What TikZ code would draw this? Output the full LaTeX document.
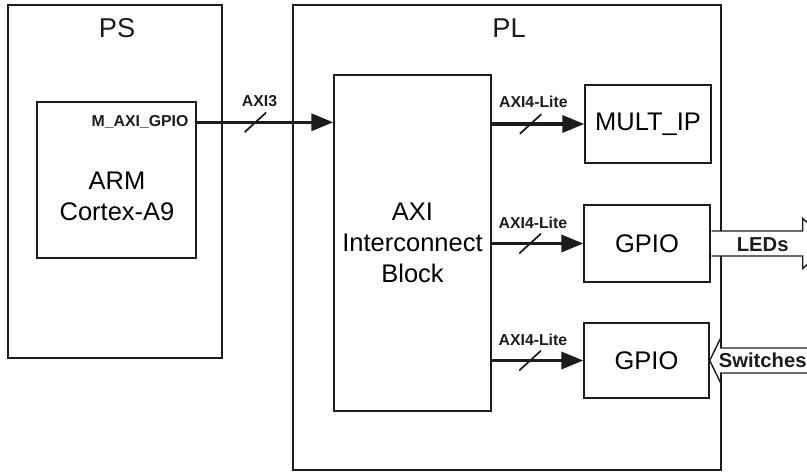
\documentclass[tikz,border=0pt]{standalone}
\usepackage{fontspec}
\setmainfont{Liberation Sans}
\usetikzlibrary{arrows.meta,positioning,calc}
\definecolor{zyInk}{HTML}{1C1C1C}
\tikzset{
  zy/base/.style={draw=zyInk, line width=0.8pt, inner sep=0pt},
  zy/region/.style={zy/base},
  zy/block/.style={zy/base, align=center, font=\fontsize{14.5}{17.5}\selectfont},
  zy/title/.style={font=\fontsize{15.5}{18}\selectfont, text=zyInk},
  zy/bus/.style={-{Triangle[length=4.4mm,width=3.4mm]}, draw=zyInk,
    line width=2pt},
  zy/buslabel/.style={font=\bfseries\fontsize{9}{10}\selectfont, text=zyInk,
    inner sep=0pt},
  zy/slash/.style={minimum width=4.4mm, minimum height=4mm, inner sep=0pt,
    path picture={\draw[-, zyInk, line width=1pt]
      (path picture bounding box.south west) -- (path picture bounding box.north east);}},
  zy/port/.style={draw=zyInk, line width=0.8pt, fill=white},
  zy/portlabel/.style={font=\bfseries\fontsize{11.5}{13}\selectfont, text=zyInk,
    inner sep=0pt},
}

\begin{document}
\begin{tikzpicture}[
    block/.style={zy/block, minimum width=2.52cm, minimum height=1.54cm},
]
\useasboundingbox (0,0) rectangle (16.14,-9.50);

% processing system side
\node[zy/region, minimum width=4.28cm, minimum height=7.06cm] (ps) at (2.30,-3.63) {};
\node[zy/title] (pstitle) at ($(ps.north)+(0.04,-0.47)$) {PS};
\node[zy/region, minimum width=3.18cm, minimum height=3.12cm] (arm) at (2.33,-3.60) {};
\node[zy/block, draw=none] (armtext) at (2.34,-3.92) {ARM\\Cortex-A9};
\node[zy/buslabel, anchor=east] (mgpio) at ($(arm.north east)+(-0.16,-0.42)$) {M\_AXI\_GPIO};

% programmable logic side
\node[zy/region, minimum width=8.56cm, minimum height=9.30cm] (pl) at (10.14,-4.75) {};
\node[zy/title] (pltitle) at ($(pl.north)+(0.04,-0.47)$) {PL};
\node[zy/block, minimum width=3.14cm, minimum height=6.72cm] (axi) at (8.25,-4.86)
  {AXI\\Interconnect\\Block};
\node[block, minimum height=1.56cm] (mult) at (12.96,-2.48) {MULT\_IP};
\node[block] (gpioled) at (12.94,-4.87) {GPIO};
\node[block, minimum width=2.50cm, minimum height=1.50cm] (gpiosw) at (12.93,-7.21) {GPIO};

% buses
\draw[zy/bus] (mgpio.east -| arm.east)
  -- node[pos=0.43, zy/slash] (s0) {} node[pos=0.46, zy/buslabel, yshift=0.42cm] (l0) {AXI3}
  (mgpio.east -| axi.west);
\draw[zy/bus] (mult.west -| axi.east)
  -- node[pos=0.42, zy/slash] (s1) {} node[pos=0.45, zy/buslabel, yshift=0.44cm] (l1) {AXI4-Lite}
  (mult.west);
\draw[zy/bus] (gpioled.west -| axi.east)
  -- node[pos=0.42, zy/slash] (s2) {} node[pos=0.45, zy/buslabel, yshift=0.42cm] (l2) {AXI4-Lite}
  (gpioled.west);
\draw[zy/bus] (gpiosw.west -| axi.east)
  -- node[pos=0.42, zy/slash] (s3) {} node[pos=0.45, zy/buslabel, yshift=0.42cm] (l3) {AXI4-Lite}
  (gpiosw.west);

% board I/O
\begin{scope}[shift={(gpioled.east)}]
  \draw[zy/port] (0.02,0.25) -- (1.84,0.25) -- (1.84,0.50) -- (2.40,0)
    -- (1.84,-0.50) -- (1.84,-0.25) -- (0.02,-0.25);
\end{scope}
\node[zy/portlabel] (leds) at ($(gpioled.east)+(1.04,-0.02)$) {LEDs};
\begin{scope}[shift={(gpiosw.east)}]
  \draw[zy/port] (0,0) -- (0.22,0.45) -- (0.22,0.25) -- (2.20,0.25)
    -- (2.20,-0.25) -- (0.22,-0.25) -- (0.22,-0.45) -- cycle;
\end{scope}
\node[zy/portlabel] (switches) at ($(gpiosw.east)+(1.06,0)$) {Switches};
\end{tikzpicture}
\end{document}
